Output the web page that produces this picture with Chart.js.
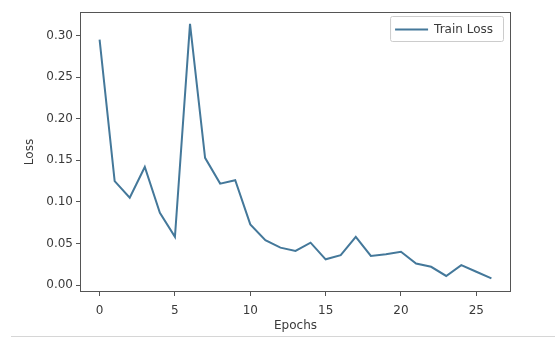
<!DOCTYPE html>
<html>
<head>
<meta charset="utf-8">
<script src="https://cdn.jsdelivr.net/npm/chart.js@4.4.0/dist/chart.umd.min.js"></script>
<style>
  html, body { margin: 0; padding: 0; background: #fff; }
  #wrap { position: relative; width: 555px; height: 338px; }
  #bottomLine { position: absolute; left: 11px; top: 336px; width: 544px; height: 1px; background: #d6d6d6; }
</style>
</head>
<body>
<div id="wrap">
  <canvas id="myChart" width="555" height="338"></canvas>
  <div id="bottomLine"></div>
</div>
<script>
// data
var epochs = [0, 1, 2, 3, 4, 5, 6, 7, 8, 9, 10, 11, 12, 13, 14, 15, 16, 17, 18, 19, 20, 21, 22, 23, 24, 25, 26];
var trainLoss = [0.295, 0.125, 0.105, 0.142, 0.087, 0.058, 0.314, 0.153, 0.122, 0.126, 0.073,
                 0.054, 0.045, 0.041, 0.051, 0.031, 0.036, 0.058, 0.035, 0.037, 0.040,
                 0.026, 0.022, 0.011, 0.024, 0.016, 0.008];
var xTicks = [0, 5, 10, 15, 20, 25];
var yTicks = [0.00, 0.05, 0.10, 0.15, 0.20, 0.25, 0.30];

var lineColor = "#44789a";
var textColor = "#3a3a3a";
var frameColor = "#555555";

// frame around the plot area, like matplotlib axes
var framePlugin = {
    id: "frame",
    afterDraw: function (chart) {
        var a = chart.chartArea;
        var c = chart.ctx;
        c.save();
        c.strokeStyle = frameColor;
        c.lineWidth = 1;
        c.strokeRect(a.left + 0.5, a.top + 0.5, a.right - a.left - 1, a.bottom - a.top - 1);
        c.restore();
    }
};

// legend box in the upper right corner of the plot
var legendPlugin = {
    id: "boxLegend",
    afterDraw: function (chart) {
        var a = chart.chartArea;
        var c = chart.ctx;
        var ds = chart.data.datasets[0];
        c.save();
        c.font = "12px 'DejaVu Sans'";
        var tw = c.measureText(ds.label).width;
        var w = 10 + 30 + 8 + tw + 6;
        var h = 25;
        var x = a.right - 8 - w;
        var y = a.top + 4;
        c.fillStyle = "rgba(255,255,255,0.8)";
        c.strokeStyle = "#cccccc";
        c.lineWidth = 1;
        c.beginPath();
        c.roundRect(x + 0.5, y + 0.5, w, h, 2);
        c.fill();
        c.stroke();
        c.strokeStyle = ds.borderColor;
        c.lineWidth = 2;
        c.beginPath();
        c.moveTo(x + 5, y + h / 2 + 1);
        c.lineTo(x + 38, y + h / 2 + 1);
        c.stroke();
        c.fillStyle = textColor;
        c.textBaseline = "middle";
        c.fillText(ds.label, x + 44, y + h / 2 + 1);
        c.restore();
    }
};

var points = new Array();
for (let i = 0; i < epochs.length; i++) {
    points[i] = { x: epochs[i], y: trainLoss[i] };
}

var ctx = document.getElementById("myChart").getContext("2d");
var myChart = new Chart(ctx, {
    type: "line",
    data: {
        datasets: [{
            label: "Train Loss",
            data: points,
            borderColor: lineColor,
            borderWidth: 2,
            pointRadius: 0,
            tension: 0,
            fill: false
        }]
    },
    options: {
        responsive: false,
        animation: false,
        layout: { padding: { left: 20, right: 44, top: 12, bottom: 2 } },
        plugins: {
            legend: { display: false },
            tooltip: { enabled: false }
        },
        scales: {
            x: {
                type: "linear",
                min: -1.3,
                max: 27.3,
                afterBuildTicks: function (scale) {
                    scale.ticks = xTicks.map(function (v) { return { value: v }; });
                },
                afterFit: function (scale) { scale.height = 44; },
                grid: { drawOnChartArea: false, drawTicks: true, tickLength: 4, color: frameColor },
                border: { display: false },
                ticks: {
                    color: textColor,
                    padding: 8,
                    maxRotation: 0,
                    font: { family: "DejaVu Sans", size: 12 }
                },
                title: {
                    display: true,
                    text: "Epochs",
                    color: textColor,
                    font: { family: "DejaVu Sans", size: 12 },
                    padding: { top: 0, bottom: 3 }
                }
            },
            y: {
                type: "linear",
                min: -0.0083,
                max: 0.3283,
                afterBuildTicks: function (scale) {
                    scale.ticks = yTicks.map(function (v) { return { value: v }; });
                },
                afterFit: function (scale) { scale.width = 60; },
                grid: { drawOnChartArea: false, drawTicks: true, tickLength: 4, color: frameColor },
                border: { display: false },
                ticks: {
                    color: textColor,
                    padding: 3,
                    font: { family: "DejaVu Sans", size: 12 },
                    callback: function (v) { return v.toFixed(2); }
                },
                title: {
                    display: true,
                    text: "Loss",
                    color: textColor,
                    font: { family: "DejaVu Sans", size: 12 },
                    padding: { top: 3, bottom: 2 }
                }
            }
        }
    },
    plugins: [framePlugin, legendPlugin]
});
</script>
</body>
</html>
